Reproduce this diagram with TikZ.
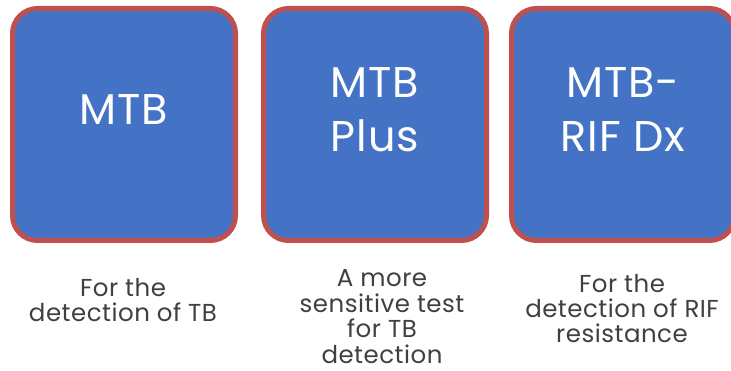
\documentclass[tikz,border=0pt]{standalone}
\usepackage{fontspec}
\setmainfont{Poppins}
\definecolor{boxblue}{HTML}{4472C4}
\definecolor{boxred}{HTML}{C0504D}
\definecolor{notegray}{HTML}{404040}
\tikzset{
  testbox/.style={draw=boxred, fill=boxblue, line width=5pt, rounded corners=25pt,
    minimum width=223pt, minimum height=232pt, inner sep=0pt},
  boxtext/.style={text=white, align=center, anchor=base, inner sep=0pt,
    font=\fontsize{43}{54}\selectfont\addfontfeature{LetterSpace=2}},
  note/.style={text=notegray, align=center, anchor=base, inner sep=0pt,
    font=\fontsize{24.5}{25.5}\selectfont\addfontfeature{LetterSpace=2}}
}
\begin{document}
\begin{tikzpicture}[x=1pt, y=-1pt, line join=round]
  \useasboundingbox (0,0) rectangle (731,371);
  \clip (0,0) rectangle (731,371);
  % the three tests
  \foreach \n/\x in {1/124,2/375,3/623}
    \node[testbox] (box\n) at (\x,124.5) {};
  \node[boxtext] (name1) at (124,125) {MTB};
  \node[boxtext] (name2) at (375,152) {MTB\\Plus};
  \node[boxtext] (name3) at (623,152) {MTB-\\RIF Dx};
  % what each one is for (anchored at the last line)
  \node[note] (use1) at (123,322) {For the\\detection of TB};
  \node[note] (use2) at (382,363) {A more\\sensitive test\\for TB\\detection};
  \node[note] (use3) at (622,343) {For the\\detection of RIF\\resistance};
\end{tikzpicture}
\end{document}
